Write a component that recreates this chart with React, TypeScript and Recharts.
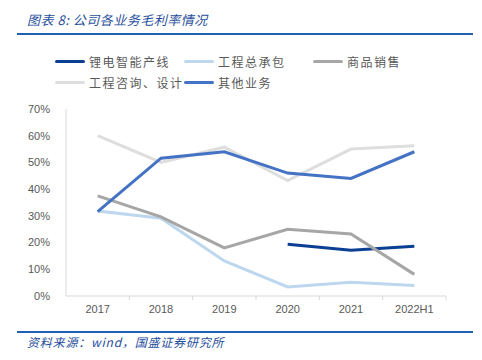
import React from 'react';
import { LineChart, Line, XAxis, YAxis } from 'recharts';

const YEARS = ['2017', '2018', '2019', '2020', '2021', '2022H1'];
const LITHIUM = [null, null, null, 19.4, 17.1, 18.6];
const EPC = [31.8, 29.1, 13.1, 3.4, 5.1, 3.9];
const GOODS = [37.5, 29.6, 18.0, 25.0, 23.2, 8.1];
const CONSULT = [60.0, 50.0, 55.7, 43.2, 55.0, 56.2];
const OTHER = [31.6, 51.6, 54.0, 46.0, 44.0, 54.0];
const Y_TICKS = [0, 10, 20, 30, 40, 50, 60, 70];

const SERIES = [
  { key: 'lithium', name: '锂电智能产线', color: '#0B3F93', values: LITHIUM },
  { key: 'epc', name: '工程总承包', color: '#BDD7EE', values: EPC },
  { key: 'goods', name: '商品销售', color: '#A6A6A6', values: GOODS },
  { key: 'consult', name: '工程咨询、设计', color: '#DEDEDE', values: CONSULT },
  { key: 'other', name: '其他业务', color: '#4472C4', values: OTHER },
];

const data = YEARS.map((year, i) => {
  const row: any = { x: i + 0.5, year };
  SERIES.forEach((s) => {
    row[s.key] = s.values[i];
  });
  return row;
});

// tick marks sit between categories, labels in the middle
const xTicks: number[] = [];
for (let i = 0; i <= YEARS.length; i++) {
  xTicks.push(i);
  if (i < YEARS.length) xTicks.push(i + 0.5);
}

const XTick = (props: any) => {
  const { x, y, payload } = props;
  const v = payload.value;
  if (Number.isInteger(v)) {
    if (v === 0) return <g />;
    return <line x1={x} x2={x} y1={y} y2={y + 4} stroke="#D9D9D9" strokeWidth={1} />;
  }
  return (
    <text x={x} y={y + 17} textAnchor="middle" fill="#595959" fontSize={11} fontFamily="'Liberation Sans', Arial, sans-serif">
      {YEARS[Math.floor(v)]}
    </text>
  );
};

const legendRows = [
  [SERIES[0], SERIES[1], SERIES[2]],
  [SERIES[3], SERIES[4]],
];
const legendX = [55, 184, 313];

const cjk = "'Noto Sans CJK SC', sans-serif";

export default function App() {
  return (
    <div style={{ position: 'fixed', left: 0, top: 0, width: 482, height: 360, background: '#fff', overflow: 'hidden' }}>
      <div style={{ position: 'absolute', left: 27, top: 10, fontSize: 13, fontStyle: 'italic', color: '#1F4E9C', fontFamily: cjk, lineHeight: '20px', letterSpacing: 0.5 }}>
        图表 8:&nbsp;公司各业务毛利率情况
      </div>
      <div style={{ position: 'absolute', left: 17, top: 33, width: 456, height: 2, background: '#2060B8' }} />

      {legendRows.map((row, r) =>
        row.map((s, c) => (
          <div key={s.key} style={{ position: 'absolute', left: legendX[c], top: 53 + r * 21, height: 16, display: 'flex', alignItems: 'center' }}>
            <div style={{ width: 30, height: 3, borderRadius: 2, background: s.color, marginRight: 4 }} />
            <span style={{ fontSize: 12, color: '#595959', fontFamily: cjk, letterSpacing: 1.5 }}>{s.name}</span>
          </div>
        ))
      )}

      <div style={{ position: 'absolute', left: 0, top: 0 }}>
        <LineChart width={482} height={360} data={data} margin={{ top: 109, right: 36, bottom: 0, left: 0 }}>
          <XAxis
            dataKey="x"
            type="number"
            domain={[0, YEARS.length]}
            ticks={xTicks}
            interval={0}
            tickLine={false}
            tickSize={0}
            tickMargin={0}
            tick={<XTick />}
            axisLine={{ stroke: '#D9D9D9', strokeWidth: 1 }}
            height={64}
          />
          <YAxis
            type="number"
            domain={[0, 70]}
            ticks={Y_TICKS}
            interval={0}
            width={66}
            tickLine={false}
            tickMargin={10}
            axisLine={{ stroke: '#D9D9D9', strokeWidth: 1 }}
            tickFormatter={(v) => `${v}%`}
            tick={{ fill: '#595959', fontSize: 11, fontFamily: "'Liberation Sans', Arial, sans-serif" }}
          />
          {SERIES.map((s) => (
            <Line
              key={s.key}
              dataKey={s.key}
              name={s.name}
              stroke={s.color}
              strokeWidth={3}
              dot={false}
              activeDot={false}
              type="linear"
              isAnimationActive={false}
            />
          ))}
        </LineChart>
      </div>

      <div style={{ position: 'absolute', left: 17, top: 331, width: 456, height: 2, background: '#2060B8' }} />
      <div style={{ position: 'absolute', left: 27, top: 333, fontSize: 12, fontStyle: 'italic', color: '#1F4E9C', fontFamily: cjk, lineHeight: '18px', letterSpacing: 0.8 }}>
        资料来源：wind，国盛证券研究所
      </div>
    </div>
  );
}
